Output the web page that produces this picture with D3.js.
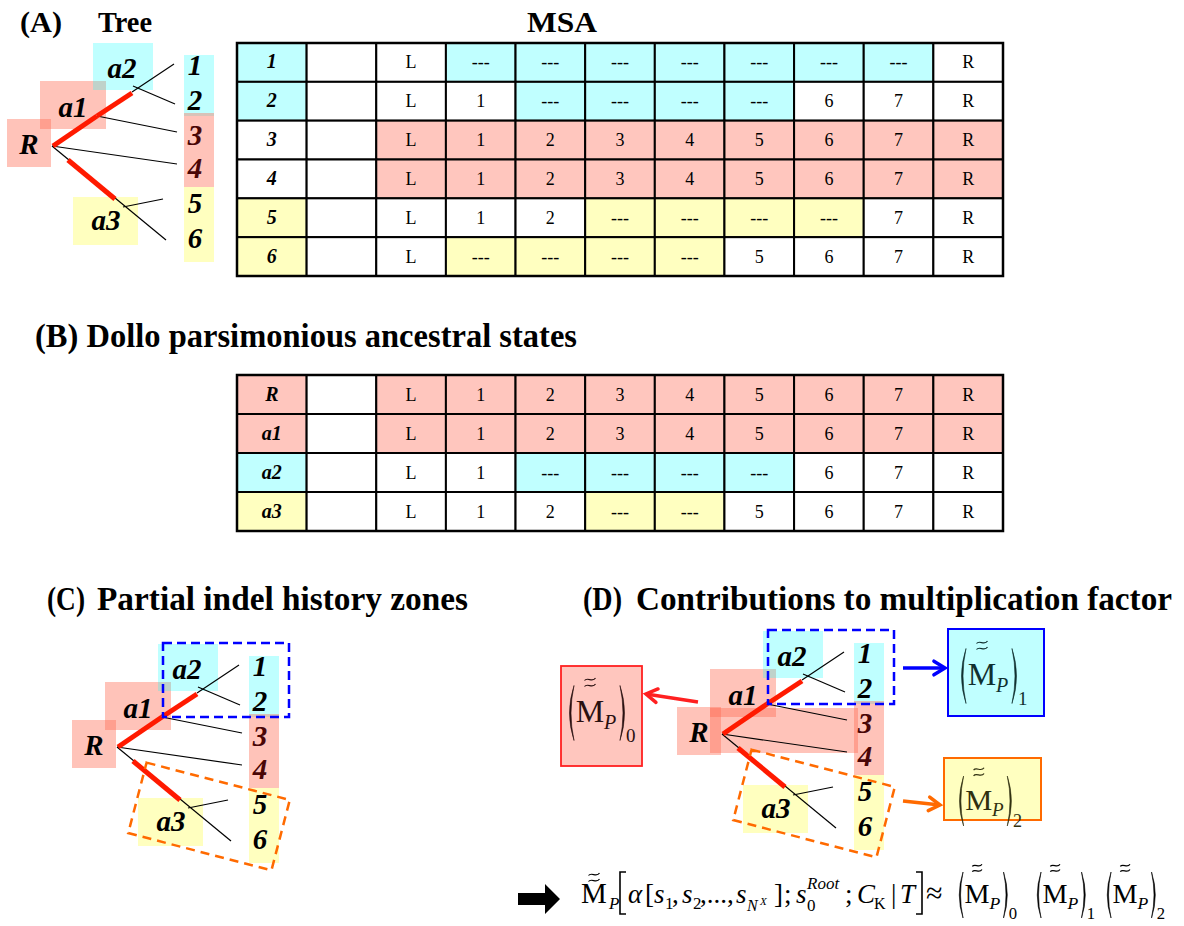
<!DOCTYPE html>
<html><head><meta charset="utf-8">
<script src="https://cdn.jsdelivr.net/npm/d3@7/dist/d3.min.js"></script>
<style>body{margin:0;background:#fff}svg{display:block}text{font-family:"Times New Roman","Liberation Serif",Tinos,Times,serif}</style>
</head><body>
<script>
// ---------- data ----------
const msaLabels = ["1","2","3","4","5","6"];
const msaText = [
 ["1","","L","---","---","---","---","---","---","---","R"],
 ["2","","L","1","---","---","---","---","6","7","R"],
 ["3","","L","1","2","3","4","5","6","7","R"],
 ["4","","L","1","2","3","4","5","6","7","R"],
 ["5","","L","1","2","---","---","---","---","7","R"],
 ["6","","L","---","---","---","---","5","6","7","R"]
];
const msaFill = ["CWWCCCCCCCW","CWWWCCCCWWW","WWPPPPPPPPP","WWPPPPPPPPP","YWWWWYYYYWW","YWWYYYYWWWW"];
const ancLabels = ["R","a1","a2","a3"];
const ancText = [
 ["R","","L","1","2","3","4","5","6","7","R"],
 ["a1","","L","1","2","3","4","5","6","7","R"],
 ["a2","","L","1","---","---","---","---","6","7","R"],
 ["a3","","L","1","2","---","---","5","6","7","R"]
];
const ancFill = ["PWPPPPPPPPP","PWPPPPPPPPP","CWWWCCCCWWW","YWWWWYYWWWW"];
const columns = d3.range(11);
const solid = {C:"#c0ffff",P:"#ffc6be",Y:"#ffffc0",W:"#ffffff"};
const tint = {C:["#00ffff",0.25],P:["#ff6a50",0.4],Y:["#ffff00",0.25]};

// tree layout (local coordinates of panel A)
const treeBoxes = [
 {x0:7,y0:119,x1:51,y1:167,c:"P"},{x0:40,y0:81,x1:106,y1:129,c:"P"},
 {x0:93,y0:43,x1:153,y1:90,c:"C"},{x0:73,y0:197,x1:138,y1:245,c:"Y"},
 {x0:184,y0:55,x1:214,y1:116,c:"C"},{x0:184,y0:113,x1:214,y1:187,c:"P"},
 {x0:184,y0:187,x1:214,y1:262,c:"Y"}
];
const thinEdges = [[132,92,174,64],[133,86,175,104],[97,116,177,132],[52,146,177,164],[52,146,166,240],[123,207,163,199]];
const redEdges = [[53,146,97,116],[97,116,132,93],[68,160,115,199]];
const nodeLabels = [
 {t:"R",x:29,y:154},{t:"a1",x:73,y:117},{t:"a2",x:122,y:78},{t:"a3",x:106,y:230},
 {t:"1",x:195,y:75},{t:"2",x:195,y:110},{t:"3",x:195,y:145,dark:1},{t:"4",x:195,y:178,dark:1},
 {t:"5",x:195,y:213},{t:"6",x:195,y:248}
];

const W = 1184, H = 926;
const svg = d3.select("body").append("svg").attr("width",W).attr("height",H);

// ---------- titles ----------
function title(t,x,y,size,len){
  svg.append("text").attr("x",x).attr("y",y).attr("font-size",size).attr("font-weight","bold")
   .attr("textLength",len).attr("lengthAdjust","spacingAndGlyphs").text(t);
}
title("(A)",20,32,30,42); title("Tree",98,32,30,54); title("MSA",527,32,30,70);
title("(B) Dollo parsimonious ancestral states",35,347,34,542);
title("(C)",47,610,34,38); title("Partial indel history zones",97,610,34,371);
title("(D)",583,610,34,39); title("Contributions to multiplication factor",636,610,34,536);

// ---------- tables ----------
const xCol = d3.scaleBand().domain(columns).range([237,1003]);
function table(texts, fills, y0, y1){
  const yRow = d3.scaleBand().domain(d3.range(texts.length)).range([y0,y1]);
  const g = svg.append("g");
  texts.forEach((row,i)=>{
    row.forEach((t,j)=>{
      g.append("rect").attr("x",xCol(j)).attr("y",yRow(i)).attr("width",xCol.bandwidth()).attr("height",yRow.bandwidth())
       .attr("fill",solid[fills[i][j]]).attr("stroke","#000").attr("stroke-width",2);
      if(t!==""){
        g.append("text").attr("x",xCol(j)+xCol.bandwidth()/2).attr("y",yRow(i)+yRow.bandwidth()/2+6)
         .attr("text-anchor","middle").attr("font-size",j===0?20:18)
         .attr("font-weight",j===0?"bold":"normal").attr("font-style",j===0?"italic":"normal")
         .text(t);
      }
    });
  });
  g.append("rect").attr("x",237).attr("y",y0).attr("width",1003-237).attr("height",y1-y0)
   .attr("fill","none").attr("stroke","#000").attr("stroke-width",2.5);
}
table(msaText, msaFill, 43, 276);
table(ancText, ancFill, 375, 531);

// ---------- trees ----------
function tree(dx,dy,extra){
  const g = svg.append("g").attr("transform",`translate(${dx},${dy})`);
  if(extra) extra(g);
  treeBoxes.forEach(b=>{
    g.append("rect").attr("x",b.x0).attr("y",b.y0).attr("width",b.x1-b.x0).attr("height",b.y1-b.y0)
     .attr("fill",tint[b.c][0]).attr("fill-opacity",tint[b.c][1]);
  });
  thinEdges.forEach(e=>g.append("line").attr("x1",e[0]).attr("y1",e[1]).attr("x2",e[2]).attr("y2",e[3])
     .attr("stroke","#000").attr("stroke-width",1.2));
  redEdges.forEach(e=>g.append("line").attr("x1",e[0]).attr("y1",e[1]).attr("x2",e[2]).attr("y2",e[3])
     .attr("stroke","#ff1a00").attr("stroke-width",5));
  nodeLabels.forEach(l=>g.append("text").attr("x",l.x).attr("y",l.y).attr("text-anchor","middle")
     .attr("font-size",29).attr("font-weight","bold").attr("font-style","italic")
     .attr("fill",l.dark?"#4a0606":"#000").text(l.t));
  return g;
}
tree(0,0);
function zones(g){
  g.append("rect").attr("x",98).attr("y",42).attr("width",126).attr("height",74)
   .attr("fill","none").attr("stroke","#0000ff").attr("stroke-width",2.5).attr("stroke-dasharray","9,5");
  g.append("rect").attr("x",-74).attr("y",-36.4).attr("width",148).attr("height",72.8)
   .attr("transform","translate(144,215.5) rotate(14.6)")
   .attr("fill","none").attr("stroke","#ff6a00").attr("stroke-width",2.5).attr("stroke-dasharray","9,6");
}
const gC = tree(65,601);
zones(gC);
const gD = tree(670,588,g=>{
  g.append("rect").attr("x",40).attr("y",120).attr("width",148).attr("height",45)
   .attr("fill","#ff6a50").attr("fill-opacity",0.4);
});
zones(gD);

// ---------- M~ groups ----------
function tildes(g,cx,y,s,col){
  [0,6*s].forEach(o=>{
    g.append("path").attr("d",`M${cx-5.5*s},${y+o+1.5*s} C${cx-2.5*s},${y+o-2.5*s} ${cx+2.5*s},${y+o+4*s} ${cx+5.5*s},${y+o-1*s}`)
     .attr("fill","none").attr("stroke",col).attr("stroke-width",1.2);
  });
}
function paren(g,x,yc,h,dir,col){
  const t=x, c = x - dir*9*h/55, ci = x - dir*6*h/55;
  g.append("path").attr("d",`M${t},${yc-h/2} Q${c},${yc} ${t},${yc+h/2} Q${ci},${yc} ${t},${yc-h/2}Z`)
   .attr("fill",col).attr("stroke",col).attr("stroke-width",0.6);
}
function mGroup(x0,yc,h,s,sub,col){
  const g = svg.append("g");
  paren(g,x0+8*s,yc,h,1,col);
  g.append("text").attr("x",x0+24*s).attr("y",yc+9*s).attr("text-anchor","middle").attr("font-size",32*s).attr("fill",col).text("M");
  tildes(g,x0+24*s,yc-34*s,s,col);
  g.append("text").attr("x",x0+38*s).attr("y",yc+16*s).attr("font-size",20*s).attr("font-style","italic").attr("fill",col).text("P");
  paren(g,x0+54*s,yc,h,-1,col);
  g.append("text").attr("x",x0+60*s).attr("y",yc+h/2+1).attr("font-size",19*s).attr("fill",col).text(sub);
}

// boxes in (D)
function arrow(x1,y1,x2,y2,col){
  svg.append("line").attr("x1",x1).attr("y1",y1).attr("x2",x2).attr("y2",y2).attr("stroke",col).attr("stroke-width",3.5);
  const a = Math.atan2(y2-y1,x2-x1), L=13, sp=0.55;
  svg.append("path").attr("d",`M${x2-L*Math.cos(a-sp)},${y2-L*Math.sin(a-sp)} L${x2},${y2} L${x2-L*Math.cos(a+sp)},${y2-L*Math.sin(a+sp)}`)
   .attr("fill","none").attr("stroke",col).attr("stroke-width",3.5).attr("stroke-linecap","round");
}
svg.append("rect").attr("x",561).attr("y",666).attr("width",81).attr("height",100).attr("fill","#ffc6be").attr("stroke","#ff2020").attr("stroke-width",1.8);
svg.append("rect").attr("x",948).attr("y",629).attr("width",96).attr("height",87).attr("fill","#c0ffff").attr("stroke","#0000ff").attr("stroke-width",2);
svg.append("rect").attr("x",944).attr("y",758).attr("width",97).attr("height",62).attr("fill","#ffffc0").attr("stroke","#ff6a00").attr("stroke-width",2);
arrow(698,702,646,694,"#ff2020");
arrow(903,668,945,668,"#0000ff");
arrow(903,801,940,805,"#ff6a00");
mGroup(566,713,55,1,"0","#2a1010");
mGroup(958,676,55,1,"1","#103030");
mGroup(956,801,50,0.95,"2","#303010");

// ---------- formula ----------
svg.append("path").attr("d","M518,893 L545,893 L545,884 L560,899 L545,914 L545,905 L518,905Z").attr("fill","#000");
const fg = svg.append("g");
fg.append("text").attr("x",594).attr("y",903).attr("text-anchor","middle").attr("font-size",29).text("M");
tildes(fg,594,874,1,"#000");
fg.append("text").attr("x",609).attr("y",909).attr("font-size",17).attr("font-style","italic").text("P");
fg.append("path").attr("d","M626,872 H620 V914 H626").attr("fill","none").attr("stroke","#000").attr("stroke-width",1.6);
fg.append("path").attr("d","M916,872 H922 V914 H916").attr("fill","none").attr("stroke","#000").attr("stroke-width",1.6);
const tokens = [
 ["α",628,903,27,1],["[",645,903,27,0],["s",654,903,27,1],["1",665,909,17,0],[",",672,903,27,0],
 ["s",682,903,27,1],["2",693,909,17,0],[",...,",700,903,27,0],["s",736,903,27,1],["N",747,911,16,1],
 ["X",760,905,11,1],["]",774,903,27,0],[";",784,903,27,0],["s",796,903,27,1],["0",807,911,17,0],
 ["Root",807,889,17,1],[";",845,903,27,0],["C",857,903,27,1],["K",874,909,16,0],["|",891,903,27,0],
 ["T",900,903,27,1],["≈",926,903,30,0]
];
tokens.forEach(t=>fg.append("text").attr("x",t[1]).attr("y",t[2]).attr("font-size",t[3])
  .attr("font-style",t[4]?"italic":"normal").text(t[0]));
mGroup(956,895,46,0.88,"0","#000");
mGroup(1034,895,46,0.88,"1","#000");
mGroup(1104,895,46,0.88,"2","#000");
</script>
</body></html>
